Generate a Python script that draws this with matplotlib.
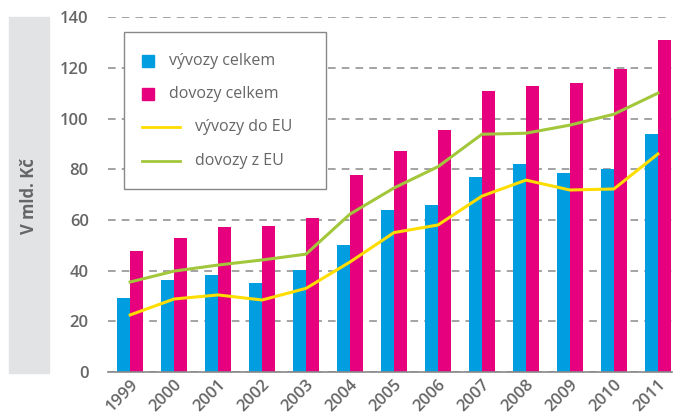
import matplotlib.pyplot as plt
import numpy as np
from matplotlib.patches import Rectangle
from matplotlib.lines import Line2D

years = ["1999", "2000", "2001", "2002", "2003", "2004", "2005",
         "2006", "2007", "2008", "2009", "2010", "2011"]
vyvozy_celkem = [29, 36.3, 38.2, 35, 40.2, 50, 64, 66, 77, 82, 78.5, 80, 94]
dovozy_celkem = [47.7, 52.8, 57.2, 57.6, 60.7, 77.7, 87.1, 95.4, 110.8, 112.8, 114, 119.5, 131]
vyvozy_eu = [22.5, 28.8, 30.4, 28.4, 33, 43.4, 55, 58, 69.4, 75.7, 71.8, 72.2, 86]
dovozy_eu = [35.5, 39.8, 42.2, 44.2, 46.5, 62.3, 72.6, 81, 93.8, 94.2, 97.4, 101.7, 110]

blue = "#009ee0"
magenta = "#e6007e"
yellow = "#ffdd00"
green = "#a2c73b"
grey = "#666666"

plt.rcParams['font.family'] = ['Open Sans', 'DejaVu Sans']

W, H = 676, 416
fig = plt.figure(figsize=(W / 100, H / 100), dpi=100)
ax = fig.add_axes([0.160, 0.1058, 0.834, 0.853])


def px(x, y):
    # pixel position (from top-left) -> figure fraction
    return x / W, 1 - y / H


# grey band behind the y label
fig.patches.append(Rectangle((9 / W, 43 / H), 40 / W, 356 / H,
                             transform=fig.transFigure, color="#e2e3e5", zorder=0))
fig.text(*px(29, 196), "V mld. Kč", rotation=90, ha="center", va="center",
         fontsize=12, fontweight="bold", color=grey)

x = np.arange(len(years))
w = 0.29
ax.bar(x - w / 2, vyvozy_celkem, w, color=blue, zorder=2)
ax.bar(x + w / 2, dovozy_celkem, w, color=magenta, zorder=2)
ax.plot(x, vyvozy_eu, color=yellow, lw=2.2, zorder=3)
ax.plot(x, dovozy_eu, color=green, lw=2.2, zorder=3)

ax.set_ylim(0, 140)
ax.set_xlim(-0.5, 12.32)
ax.set_yticks(range(0, 141, 20))
ax.yaxis.grid(True, linestyle=(0, (5, 4)), color="#8a8a8a", lw=1.1)
ax.set_axisbelow(True)
for s in ["top", "right", "left"]:
    ax.spines[s].set_visible(False)
ax.spines["bottom"].set_color("#888888")
ax.spines["bottom"].set_linewidth(1.2)
ax.tick_params(axis="both", length=0, colors=grey, labelsize=12)
ax.tick_params(axis="y", pad=14)
ax.set_xticks(x)
ax.set_xticklabels(years, rotation=45, ha="right", rotation_mode="anchor",
                   fontweight="semibold")
for lab in ax.get_yticklabels():
    lab.set_fontweight("semibold")

# legend box drawn by hand (line labels sit further right than square labels)
x0, y0 = px(124, 189)
fig.patches.append(Rectangle((x0, y0), 202 / W, 157 / H, transform=fig.transFigure,
                             facecolor="white", edgecolor="#888888", lw=1.0, zorder=5))
labels = ["vývozy celkem", "dovozy celkem", "vývozy do EU", "dovozy z EU"]
rows = [61, 94, 127, 161]
for i, (lab, ry) in enumerate(zip(labels, rows)):
    if i < 2:
        col = blue if i == 0 else magenta
        fig.patches.append(Rectangle(px(142, ry + 6), 12 / W, 12 / H,
                                     transform=fig.transFigure, color=col, zorder=6))
        tx = 169
    else:
        col = yellow if i == 2 else green
        fig.lines.append(Line2D([142 / W, 180 / W], [1 - ry / H] * 2,
                                transform=fig.transFigure, color=col, lw=2, zorder=6))
        tx = 195
    fig.text(*px(tx, ry), lab, ha="left", va="center", fontsize=11.5,
             color=grey, zorder=7)

fig.savefig("out.png", dpi=100)
